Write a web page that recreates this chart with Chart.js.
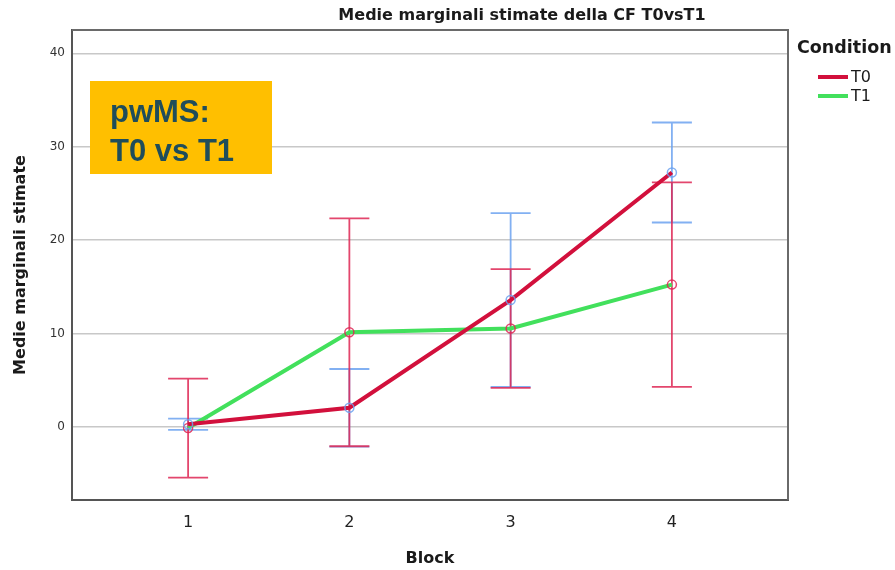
<!DOCTYPE html>
<html>
<head>
<meta charset="utf-8">
<script src="https://cdn.jsdelivr.net/npm/chart.js@4.4.1/dist/chart.umd.min.js"></script>
<style>
  html, body { margin: 0; padding: 0; background: #fff; }
  #wrap { width: 895px; height: 570px; position: relative; }
</style>
</head>
<body>
<div id="wrap"><canvas id="myChart"></canvas></div>
<script>
// data
const blocks = [1, 2, 3, 4];
const t0Means = [0.3, 2.07, 13.6, 27.25];
const t0Errors = [0.6, 4.15, 9.3, 5.35];
const t1Means = [-0.1, 10.15, 10.55, 15.25];
const t1Errors = [5.3, 12.2, 6.35, 10.95];
const yTicks = [0, 10, 20, 30, 40];

const lineColors = ["#d2103c", "#42e05c"];
const barColors = ["rgba(108,162,240,0.85)", "rgba(222,38,84,0.85)"];
const FONT = "'DejaVu Sans', sans-serif";

// error bars + frame (top / right)
const errorBars = {
  id: "errorBars",
  beforeDatasetsDraw(chart) {
    const { ctx, chartArea, scales } = chart;
    const x = scales.x;
    const y = scales.y;

    ctx.save();
    ctx.strokeStyle = "#6a6a6a";
    ctx.lineWidth = 2;
    ctx.beginPath();
    ctx.moveTo(chartArea.left, chartArea.top);
    ctx.lineTo(chartArea.right, chartArea.top);
    ctx.lineTo(chartArea.right, chartArea.bottom);
    ctx.stroke();

    const series = [
      [t0Means, t0Errors],
      [t1Means, t1Errors],
    ];
    series.forEach(([means, errs], k) => {
      ctx.strokeStyle = barColors[k];
      ctx.lineWidth = 1.8;
      blocks.forEach((b, i) => {
        const px = x.getPixelForValue(b);
        const top = y.getPixelForValue(means[i] + errs[i]);
        const bot = y.getPixelForValue(means[i] - errs[i]);
        ctx.beginPath();
        ctx.moveTo(px, top);
        ctx.lineTo(px, bot);
        ctx.moveTo(px - 20, top);
        ctx.lineTo(px + 20, top);
        ctx.moveTo(px - 20, bot);
        ctx.lineTo(px + 20, bot);
        ctx.stroke();
      });
    });
    ctx.restore();
  },
  afterDraw(chart) {
    const { ctx } = chart;
    ctx.save();

    // title
    ctx.fillStyle = "#1a1a1a";
    ctx.font = `bold 16px ${FONT}`;
    ctx.textAlign = "center";
    ctx.textBaseline = "middle";
    ctx.fillText("Medie marginali stimate della CF T0vsT1", 522, 16);

    // legend
    ctx.textAlign = "left";
    ctx.font = `bold 17.5px ${FONT}`;
    ctx.fillText("Condition", 797, 48);
    ctx.font = `16px ${FONT}`;
    chart.data.datasets.forEach((ds, k) => {
      const ly = 77 + k * 19;
      ctx.strokeStyle = lineColors[k];
      ctx.lineWidth = 4;
      ctx.beginPath();
      ctx.moveTo(818, ly);
      ctx.lineTo(848, ly);
      ctx.stroke();
      ctx.fillStyle = "#1a1a1a";
      ctx.fillText(ds.label, 851, ly + 1);
    });

    // annotation box
    ctx.fillStyle = "#ffbf00";
    ctx.fillRect(90, 81, 182, 93);
    ctx.fillStyle = "#1f4d5a";
    ctx.font = "bold 31px 'Liberation Sans', Arial, sans-serif";
    ctx.textBaseline = "alphabetic";
    ctx.fillText("pwMS:", 110, 122);
    ctx.fillText("T0 vs T1", 110, 161);
    ctx.restore();
  },
};

const makeData = (means) => blocks.map((b, i) => ({ x: b, y: means[i] }));

const ctx = document.getElementById("myChart");

new Chart(ctx, {
  type: "line",
  data: {
    datasets: [
      {
        label: "T0",
        data: makeData(t0Means),
        borderColor: lineColors[0],
        borderWidth: 4,
        pointRadius: 4.5,
        pointBorderWidth: 1.5,
        pointBorderColor: barColors[0],
        pointBackgroundColor: "rgba(0,0,0,0)",
        tension: 0,
      },
      {
        label: "T1",
        data: makeData(t1Means),
        borderColor: lineColors[1],
        borderWidth: 4,
        pointRadius: 4.5,
        pointBorderWidth: 1.5,
        pointBorderColor: barColors[1],
        pointBackgroundColor: "rgba(0,0,0,0)",
        tension: 0,
      },
    ],
  },
  options: {
    responsive: true,
    maintainAspectRatio: false,
    animation: false,
    devicePixelRatio: 1,
    layout: { padding: { top: 30, right: 107, left: 0, bottom: 0 } },
    plugins: {
      legend: { display: false },
      tooltip: { enabled: false },
    },
    scales: {
      x: {
        type: "linear",
        min: 0.28,
        max: 4.72,
        afterBuildTicks: (s) => {
          s.ticks = blocks.map((v) => ({ value: v }));
        },
        afterFit: (s) => {
          s.height = 70;
        },
        grid: { display: false, drawTicks: false },
        border: { display: true, color: "#555", width: 2 },
        ticks: {
          font: { family: FONT, size: 16 },
          color: "#222",
          padding: 13,
          maxRotation: 0,
          autoSkip: false,
        },
        title: {
          display: true,
          text: "Block",
          font: { family: FONT, size: 16, weight: "bold" },
          color: "#1a1a1a",
          padding: { top: 0, bottom: 2 },
        },
      },
      y: {
        min: -7.8,
        max: 42.5,
        afterBuildTicks: (s) => {
          s.ticks = yTicks.map((v) => ({ value: v }));
        },
        afterFit: (s) => {
          s.width = 72;
        },
        grid: { color: "#c8c8c8", lineWidth: 1.5, drawTicks: false },
        border: { display: true, color: "#555", width: 2 },
        ticks: {
          font: { family: FONT, size: 12 },
          color: "#333",
          padding: 7,
        },
        title: {
          display: true,
          text: "Medie marginali stimate",
          font: { family: FONT, size: 16, weight: "bold" },
          color: "#1a1a1a",
          padding: { top: 11, bottom: 0 },
        },
      },
    },
  },
  plugins: [errorBars],
});
</script>
</body>
</html>
